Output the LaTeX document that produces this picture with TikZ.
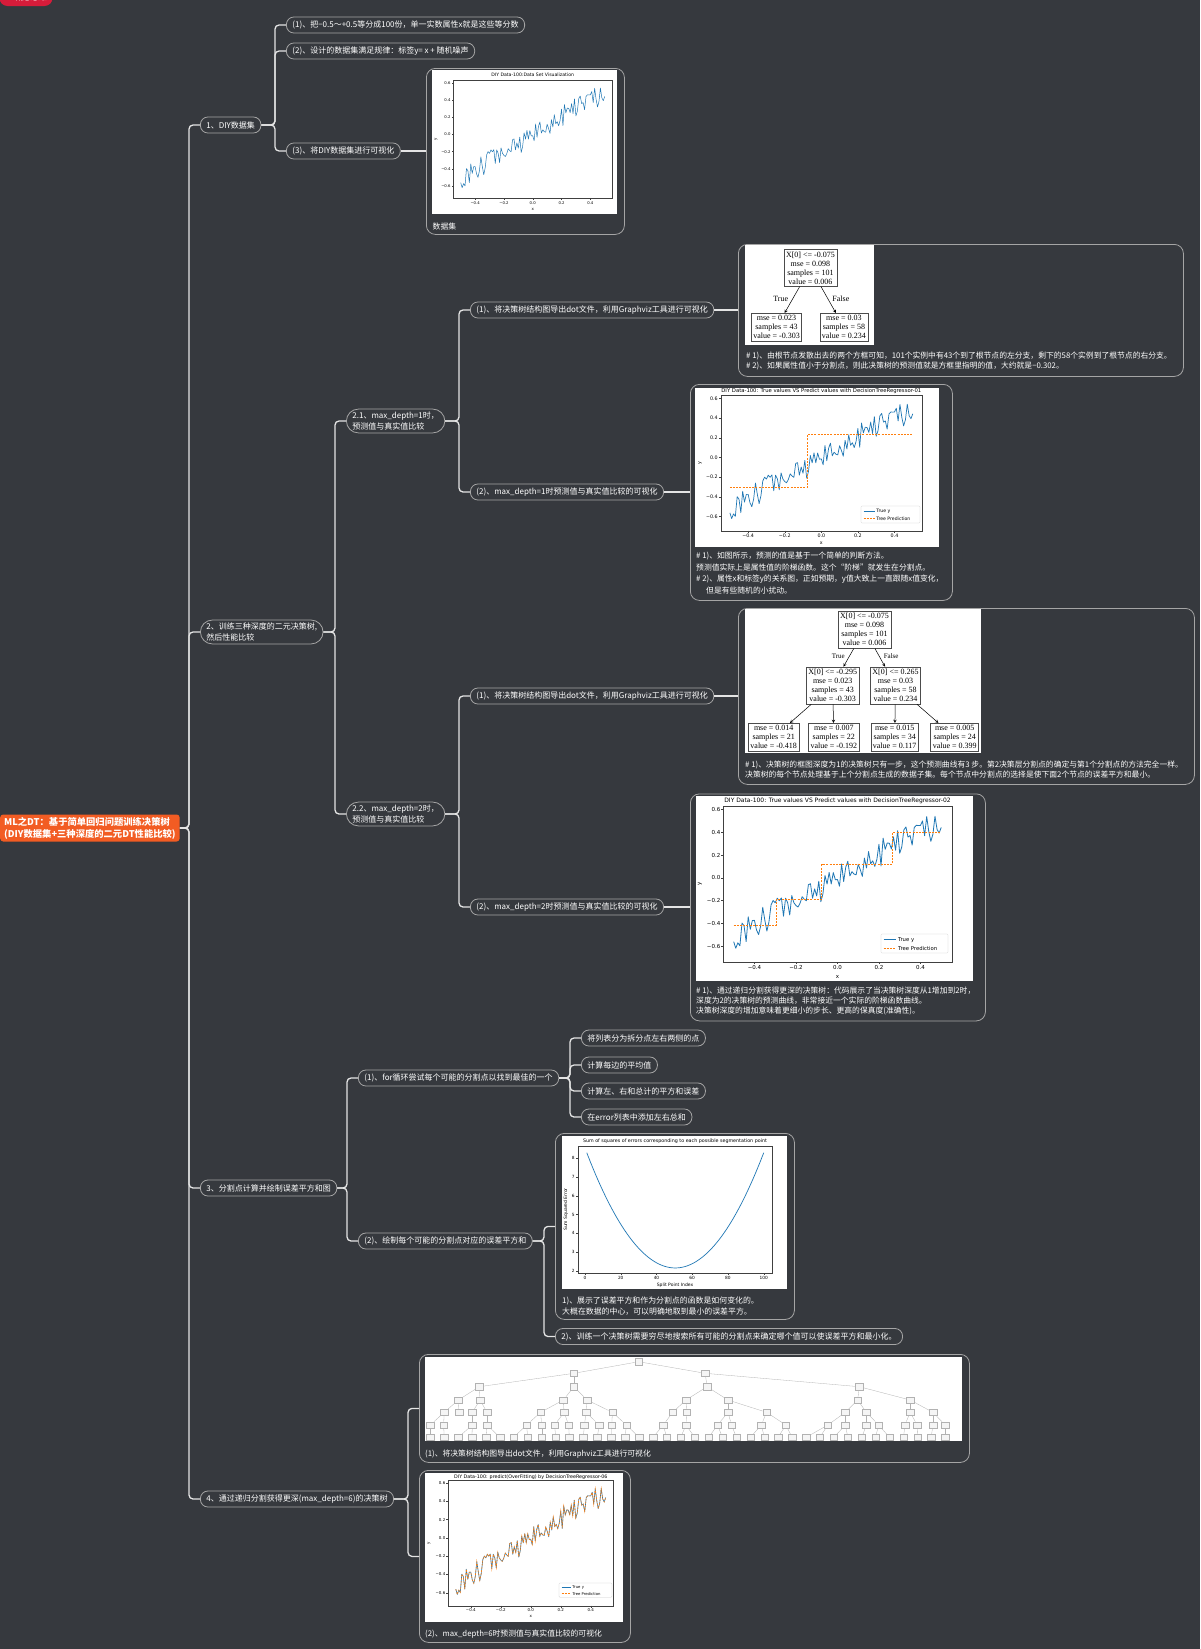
\documentclass[tikz,border=0pt]{standalone}
\usepackage{fontspec}
\setmainfont{Noto Sans CJK SC}
\newfontfamily\plotfont{DejaVu Sans}
\newfontfamily\treefont{Liberation Serif}
\usetikzlibrary{shapes,arrows,positioning,calc}

\definecolor{bgcol}{RGB}{54,57,62}
\definecolor{rimgray}{RGB}{165,165,165}
\definecolor{stemcol}{RGB}{228,228,228}
\definecolor{rootorange}{RGB}{242,92,35}
\definecolor{tagred}{RGB}{214,28,58}
\definecolor{pltblue}{RGB}{31,119,180}
\definecolor{pltorange}{RGB}{255,127,14}

\newcommand{\plotfs}[1]{\plotfont\fontsize{#1}{#1}\selectfont}

\tikzstyle{topic} = [draw=rimgray, line width=0.8pt, rounded corners=7.5pt, text=white, font=\fontsize{8}{10.5}\selectfont, inner xsep=6pt, inner ysep=3pt, minimum height=16pt, align=left]
\tikzstyle{topictwo} = [topic, rounded corners=12pt]
\tikzstyle{rootnode} = [fill=rootorange, rounded corners=3pt, text=white, font=\bfseries\fontsize{9.3}{12}\selectfont, align=left, inner xsep=4pt, inner ysep=2.5pt]
\tikzstyle{picbox} = [draw=rimgray, line width=0.8pt, rounded corners=9pt]
\tikzstyle{notetext} = [text=white, font=\fontsize{7.8}{10}\selectfont, align=left, inner sep=0pt]
\tikzstyle{branch} = [draw=stemcol, line width=1.3pt, rounded corners=4pt, to path={-- ([xshift=-11pt]\tikztotarget |- \tikztostart) |- (\tikztotarget)}]
\tikzstyle{link} = [draw=stemcol, line width=1.3pt]
\tikzstyle{axisline} = [draw=black!75, line width=0.4pt]
\tikzstyle{trueline} = [draw=pltblue, line width=0.7pt, line join=round]
\tikzstyle{predline} = [draw=pltorange, line width=0.8pt, dash pattern=on 2pt off 1.2pt]
\tikzstyle{legendframe} = [draw=black!20, fill=white, rounded corners=1pt, line width=0.3pt]
\tikzstyle{treebox} = [draw=black!70, line width=0.6pt, fill=white, align=center, inner xsep=2pt, inner ysep=2.2pt, font=\treefont\fontsize{8}{9}\selectfont]
\tikzstyle{treearrow} = [draw=black, line width=0.5pt, ->, >=stealth]
\tikzstyle{tinybox} = [draw=black!30, fill=black!4, line width=0.3pt, minimum width=7.5pt, minimum height=6.5pt, inner sep=0pt]
\tikzstyle{tinyedge} = [draw=black!30, line width=0.3pt]

% axes rectangle l,t,r,b (px) -> data x in [-0.55,0.55], y in [-0.742,0.633]
\tikzset{datamap/.style n args={4}{shift={({(#1+#3)/2},{#4-0.742*(#4-#2)/1.375})},
  /utils/exec={\pgfmathsetmacro\dmx{(#3-#1)/1.1}\pgfmathsetmacro\dmy{(#4-#2)/1.375}},
  x=\dmx pt, y=\dmy pt}}

\newcommand{\dataticks}[1]{%
  \foreach \t/\lab in {-0.6/−0.6,-0.4/−0.4,-0.2/−0.2,0/0.0,0.2/0.2,0.4/0.4,0.6/0.6}
    \draw[axisline] (-0.55,\t) -- ++(-2pt,0pt) node[anchor=east, inner sep=0.8pt, font=\plotfs{#1}] {\lab};
  \foreach \t/\lab in {-0.4/−0.4,-0.2/−0.2,0/0.0,0.2/0.2,0.4/0.4}
    \draw[axisline] (\t,-0.742) -- ++(0pt,-2pt) node[anchor=north, inner sep=0.8pt, font=\plotfs{#1}] {\lab};
}
\newcommand{\noisyline}[1]{\pgfmathsetseed{1234}%
  \draw[#1] plot[domain=-0.5:0.5, samples=101] (\x,{\x+0.13*rand});}
\newcommand{\legendbox}[5]{%
  \draw[legendframe] (#1,#2) rectangle (#3,#4);
  \draw[trueline] ({#1+2.5},{#2+0.3*(#4-#2)}) -- ++({2.4*#5},0)
    node[anchor=west, xshift=1.5pt, inner sep=0pt, font=\plotfs{#5}] {True y};
  \draw[predline] ({#1+2.5},{#2+0.74*(#4-#2)}) -- ++({2.4*#5},0)
    node[anchor=west, xshift=1.5pt, inner sep=0pt, font=\plotfs{#5}] {Tree Prediction};
}

\begin{document}
\begin{tikzpicture}[x=1pt, y=-1pt]
\useasboundingbox (0,0) rectangle (1200,1649);
\fill[bgcol] (0,0) rectangle (1200,1649);

\node[fill=tagred, rounded corners=8pt, text=white, font=\fontsize{8}{9}\selectfont, minimum width=53pt, minimum height=18pt] (tag) at (26,-3) {DT概念思维};

% root and main branches
\node[rootnode, anchor=west] (root) at (0,828) {ML之DT：基于简单回归问题训练决策树\\(DIY数据集+三种深度的二元DT性能比较)};
\node[topic, anchor=west] (dataset) at (200,125) {1、DIY数据集};
\node[topictwo, anchor=west] (train) at (200,632) {2、训练三种深度的二元决策树,\\然后性能比较};
\node[topic, anchor=west] (split) at (200,1188) {3、分割点计算并绘制误差平方和图};
\node[topic, anchor=west] (deep) at (200,1499) {4、通过递归分割获得更深(max\_depth=6)的决策树};

% 1
\node[topic, anchor=west] (dsrange) at (286,25) {(1)、把−0.5～+0.5等分成100份，单一实数属性x就是这些等分数};
\node[topic, anchor=west] (dsrule) at (286,51) {(2)、设计的数据集满足规律：标签y= x + 随机噪声};
\node[topic, anchor=west] (dsviz) at (286,151) {(3)、将DIY数据集进行可视化};
\node[picbox, anchor=north west, minimum width=198pt, minimum height=166pt] (dsbox) at (426,68) {};

% 2
\node[topictwo, anchor=west] (depthone) at (346,421) {2.1、max\_depth=1时，\\预测值与真实值比较};
\node[topictwo, anchor=west] (depthtwo) at (346,814) {2.2、max\_depth=2时，\\预测值与真实值比较};
\node[topic, anchor=west] (onedot) at (470,310) {(1)、将决策树结构图导出dot文件，利用Graphviz工具进行可视化};
\node[topic, anchor=west] (oneviz) at (470,492) {(2)、max\_depth=1时预测值与真实值比较的可视化};
\node[topic, anchor=west] (twodot) at (470,696) {(1)、将决策树结构图导出dot文件，利用Graphviz工具进行可视化};
\node[topic, anchor=west] (twoviz) at (470,907) {(2)、max\_depth=2时预测值与真实值比较的可视化};
\node[picbox, anchor=north west, minimum width=445pt, minimum height=132pt] (onedotbox) at (738,244) {};
\node[picbox, anchor=north west, minimum width=262pt, minimum height=216pt] (onevizbox) at (690,384) {};
\node[picbox, anchor=north west, minimum width=456pt, minimum height=176pt] (twodotbox) at (738,608) {};
\node[picbox, anchor=north west, minimum width=295pt, minimum height=227pt] (twovizbox) at (690,793.5) {};

% 3
\node[topic, anchor=west] (forloop) at (358,1078) {(1)、for循环尝试每个可能的分割点以找到最佳的一个};
\node[topic, anchor=west] (sseplot) at (358,1241) {(2)、绘制每个可能的分割点对应的误差平方和};
\node[topic, anchor=west] (stepa) at (581,1038) {将列表分为拆分点左右两侧的点};
\node[topic, anchor=west] (stepb) at (581,1065) {计算每边的平均值};
\node[topic, anchor=west] (stepc) at (581,1091) {计算左、右和总计的平方和误差};
\node[topic, anchor=west] (stepd) at (581,1117) {在error列表中添加左右总和};
\node[picbox, anchor=north west, minimum width=239pt, minimum height=186pt] (ssebox) at (555,1133) {};
\node[topic, anchor=west] (ssenote) at (555,1336.5) {2)、训练一个决策树需要穷尽地搜索所有可能的分割点来确定哪个值可以使误差平方和最小化。};

% 4
\node[picbox, anchor=north west, minimum width=550pt, minimum height=108pt] (sixdotbox) at (419,1354) {};
\node[picbox, anchor=north west, minimum width=211pt, minimum height=172pt] (sixvizbox) at (419,1470) {};

% connectors
\foreach \kid in {dataset,train,split,deep} \draw[branch] (root.east) to (\kid.west);
\foreach \kid in {dsrange,dsrule,dsviz} \draw[branch] (dataset.east) to (\kid.west);
\foreach \kid in {depthone,depthtwo} \draw[branch] (train.east) to (\kid.west);
\foreach \kid in {onedot,oneviz} \draw[branch] (depthone.east) to (\kid.west);
\foreach \kid in {twodot,twoviz} \draw[branch] (depthtwo.east) to (\kid.west);
\foreach \kid in {forloop,sseplot} \draw[branch] (split.east) to (\kid.west);
\foreach \kid in {stepa,stepb,stepc,stepd} \draw[branch] (forloop.east) to (\kid.west);
\foreach \kid in {ssebox,ssenote} \draw[branch] (sseplot.east) to (\kid.west);
\foreach \kid in {sixdotbox,sixvizbox} \draw[branch] (deep.east) to (\kid.west);
\draw[link] (dsviz.east) -- (dsviz.east -| dsbox.west);
\draw[link] (onedot.east) -- (onedot.east -| onedotbox.west);
\draw[link] (oneviz.east) -- (oneviz.east -| onevizbox.west);
\draw[link] (twodot.east) -- (twodot.east -| twodotbox.west);
\draw[link] (twoviz.east) -- (twoviz.east -| twovizbox.west);

% data set plot
\fill[white] (432,70) rectangle (617,214);
\draw[axisline] (453.5,80) rectangle (612,198.3);
\node[font=\plotfs{4.6}, inner sep=0pt] (dstitle) at (532.7,75) {DIY Data-100:Data Set Visualization};
\begin{scope}[datamap={453.5}{80}{612}{198.3}]
  \dataticks{3.8}
  \noisyline{trueline, line width=0.5pt}
\end{scope}
\node[font=\plotfs{4}, inner sep=0pt] (dsx) at (532.7,209.5) {x};
\node[font=\plotfs{4}, inner sep=0pt, rotate=90] (dsy) at (436,139) {y};
\node[notetext, anchor=west] (dscap) at (432.5,226.7) {数据集};

% depth 1 tree
\fill[white] (745,245) rectangle (874,345);
\node[treebox] (oneroot) at (810.4,267.8) {X[0] <= -0.075\\mse = 0.098\\samples = 101\\value = 0.006};
\node[treebox] (oneleft) at (776.5,327.2) {mse = 0.023\\samples = 43\\value = -0.303};
\node[treebox] (oneright) at (843.9,327.2) {mse = 0.03\\samples = 58\\value = 0.234};
\draw[treearrow] (oneroot) -- node[pos=0.46, left=1pt, font=\treefont\fontsize{8}{9}\selectfont] (onetrue) {True} (oneleft);
\draw[treearrow] (oneroot) -- node[pos=0.46, right=1pt, font=\treefont\fontsize{8}{9}\selectfont] (onefalse) {False} (oneright);
\node[notetext, anchor=north west] (onedotnote) at (746,352) {\# 1)、由根节点发散出去的两个方框可知，101个实例中有43个到了根节点的左分支，剩下的58个实例到了根节点的右分支。\\\# 2)、如果属性值小于分割点，则此决策树的预测值就是方框里指明的值，大约就是−0.302。};

% depth 1 plot
\fill[white] (695,388) rectangle (939,546.7);
\draw[axisline] (720.7,395) rectangle (922,530.7);
\node[font=\plotfs{5.3}, inner sep=0pt] (onetitle) at (821.3,391) {DIY Data-100: True values VS Predict values with DecisionTreeRegressor-01};
\begin{scope}[datamap={720.7}{395}{922}{530.7}]
  \dataticks{4.8}
  \noisyline{trueline}
  \draw[predline] (-0.5,-0.303) -- (-0.075,-0.303) -- (-0.075,0.234) -- (0.5,0.234);
\end{scope}
\legendbox{861}{506}{920}{523}{4.6}
\node[font=\plotfs{4.8}, inner sep=0pt] (onex) at (821.3,543) {x};
\node[font=\plotfs{4.8}, inner sep=0pt, rotate=90] (oney) at (700,463) {y};
\node[notetext, anchor=north west, font=\fontsize{7.8}{11.4}\selectfont] (oneviznote) at (696,552) {\# 1)、如图所示，预测的值是基于一个简单的判断方法。\\预测值实际上是属性值的阶梯函数。这个“阶梯”就发生在分割点。\\\# 2)、属性x和标签y的关系图，正如预期，y值大致上一直跟随x值变化，\\\hspace*{10pt}但是有些随机的小扰动。};

% depth 2 tree
\fill[white] (745,609) rectangle (981,753);
\begin{scope}[every node/.append style={font=\treefont\fontsize{7}{8.5}\selectfont}]
  \node[treebox] (tworoot) at (864.5,629.7) {X[0] <= -0.075\\mse = 0.098\\samples = 101\\value = 0.006};
  \node[treebox] (twoleft) at (832.7,685.5) {X[0] <= -0.295\\mse = 0.023\\samples = 43\\value = -0.303};
  \node[treebox] (tworight) at (895.5,685.5) {X[0] <= 0.265\\mse = 0.03\\samples = 58\\value = 0.234};
  \node[treebox] (leafa) at (773.7,737.2) {mse = 0.014\\samples = 21\\value = -0.418};
  \node[treebox] (leafb) at (833.8,737.2) {mse = 0.007\\samples = 22\\value = -0.192};
  \node[treebox] (leafc) at (894.7,737.2) {mse = 0.015\\samples = 34\\value = 0.117};
  \node[treebox] (leafd) at (954.7,737.2) {mse = 0.005\\samples = 24\\value = 0.399};
  \draw[treearrow] (tworoot) -- node[pos=0.42, left=1pt] (twotrue) {True} (twoleft);
  \draw[treearrow] (tworoot) -- node[pos=0.42, right=1pt] (twofalse) {False} (tworight);
  \draw[treearrow] (twoleft) -- (leafa);
  \draw[treearrow] (twoleft) -- (leafb);
  \draw[treearrow] (tworight) -- (leafc);
  \draw[treearrow] (tworight) -- (leafd);
\end{scope}
\node[notetext, anchor=north west] (twodotnote) at (745,761) {\# 1)、决策树的框图深度为1的决策树只有一步，这个预测曲线有3 步。第2决策层分割点的确定与第1个分割点的方法完全一样。\\决策树的每个节点处理基于上个分割点生成的数据子集。每个节点中分割点的选择是使下面2个节点的误差平方和最小。};

% depth 2 plot
\fill[white] (696,796) rectangle (973,981);
\draw[axisline] (723.3,805.7) rectangle (951.7,962.3);
\node[font=\plotfs{6}, inner sep=0pt] (twotitle) at (837.5,800.7) {DIY Data-100: True values VS Predict values with DecisionTreeRegressor-02};
\begin{scope}[datamap={723.3}{805.7}{951.7}{962.3}]
  \dataticks{5.5}
  \noisyline{trueline, line width=0.8pt}
  \draw[predline, line width=0.9pt] (-0.5,-0.418) -- (-0.295,-0.418) -- (-0.295,-0.192) -- (-0.075,-0.192)
    -- (-0.075,0.117) -- (0.265,0.117) -- (0.265,0.399) -- (0.5,0.399);
\end{scope}
\legendbox{881}{934}{948}{953}{5.3}
\node[font=\plotfs{5.5}, inner sep=0pt] (twox) at (837.5,976.7) {x};
\node[font=\plotfs{5.5}, inner sep=0pt, rotate=90] (twoy) at (700,884) {y};
\node[notetext, anchor=north west] (twoviznote) at (696,987) {\# 1)、通过递归分割获得更深的决策树：代码展示了当决策树深度从1增加到2时，\\深度为2的决策树的预测曲线，非常接近一个实际的阶梯函数曲线。\\决策树深度的增加意味着更细小的步长、更高的保真度(准确性)。};

% SSE plot
\fill[white] (562,1136) rectangle (787,1289);
\draw[axisline] (577.7,1145.7) rectangle (772.3,1273.3);
\node[font=\plotfs{4.8}, inner sep=0pt] (ssetitle) at (675,1140.7) {Sum of squares of errors corresponding to each possible segmentation point};
\begin{scope}[shift={(585,1308.2)}, x=1.787pt, y=18.73pt]
  \foreach \t in {0,20,...,100}
    \draw[axisline] (\t,1.86) -- ++(0pt,-2pt) node[anchor=north, inner sep=0.8pt, font=\plotfs{4.3}] {\t};
  \foreach \t in {2,...,8}
    \draw[axisline] (-4.08,\t) -- ++(-2pt,0pt) node[anchor=east, inner sep=0.8pt, font=\plotfs{4.3}] {\t};
  \draw[trueline] plot[domain=1:100, samples=100] (\x,{2.15+6.15*(\x-50.5)*(\x-50.5)/2450.25});
\end{scope}
\node[font=\plotfs{4.5}, inner sep=0pt] (ssex) at (675,1285.3) {Split Point Index};
\node[font=\plotfs{4.5}, inner sep=0pt, rotate=90] (ssey) at (566,1209.5) {Sum Squared Error};
\node[notetext, anchor=north west, font=\fontsize{7.9}{11}\selectfont] (ssenotes) at (562,1297) {1)、展示了误差平方和作为分割点的函数是如何变化的。\\大概在数据的中心，可以明确地取到最小的误差平方。};

% depth 6 tree
\fill[white] (425,1357) rectangle (962,1441);
\begin{scope}[shift={(419.75,0)}, x=0.3503pt]
  \node[tinybox] (sa0-0) at (625,1361.7) {};
  \foreach \px/\p [count=\i from 0] in {440/0,815/0}
    {\node[tinybox] (sa1-\i) at (\px,1373.3) {}; \draw[tinyedge] (sa0-\p) -- (sa1-\i);}
  \foreach \px/\p [count=\i from 0] in {170/0,440/0,820/1,1255/1}
    {\node[tinybox] (sa2-\i) at (\px,1386.7) {}; \draw[tinyedge] (sa1-\p) -- (sa2-\i);}
  \foreach \px/\p [count=\i from 0] in {110/0,172/0,410/1,478/1,760/2,880/2,1250/3,1400/3}
    {\node[tinybox] (sa3-\i) at (\px,1400) {}; \draw[tinyedge] (sa2-\p) -- (sa3-\i);}
  \foreach \px/\p [count=\i from 0] in {70/0,112/0,150/1,192/1,345/2,412/2,475/3,550/3,722/4,762/4,880/5,990/5,1215/6,1275/6,1400/7,1465/7}
    {\node[tinybox] (sa4-\i) at (\px,1412.3) {}; \draw[tinyedge] (sa3-\p) -- (sa4-\i);}
  \foreach \px/\p [count=\i from 0] in {30/0,68/0,150/2,192/3,305/4,348/4,385/5,425/5,470/6,512/6,548/7,590/7,695/8,760/9,850/10,890/10,975/11,1045/11,1165/12,1215/12,1275/13,1310/13,1385/14,1420/14,1465/15,1500/15}
    {\node[tinybox] (sa5-\i) at (\px,1425) {}; \draw[tinyedge] (sa4-\p) -- (sa5-\i);}
  \foreach \px/\p [count=\i from 0] in {30/0,70/1,110/2,149/2,189/3,229/3,268/4,308/4,348/5,388/6,427/7,467/8,507/9,547/10,586/11,626/11,666/12,705/12,745/13,785/13,825/14,864/14,904/15,944/16,984/16,1023/17,1063/17,1103/18,1142/18,1182/19,1222/19,1262/20,1301/21,1341/21,1381/22,1421/23,1460/24,1500/25}
    {\node[tinybox] (sa6-\i) at (\px,1437.3) {}; \draw[tinyedge] (sa5-\p) -- (sa6-\i);}
\end{scope}
\node[notetext, anchor=west] (sixdotcap) at (425,1454) {(1)、将决策树结构图导出dot文件，利用Graphviz工具进行可视化};

% depth 6 plot
\fill[white] (425,1473) rectangle (623,1622);
\draw[axisline] (448.3,1480) rectangle (613.3,1605.7);
\node[font=\plotfs{4.8}, inner sep=0pt] (sixtitle) at (530.8,1477) {DIY Data-100: predict(OverFitting) by DecisionTreeRegressor-06};
\begin{scope}[datamap={448.3}{1480}{613.3}{1605.7}]
  \dataticks{4}
  \noisyline{trueline, line width=0.6pt}
  \noisyline{predline, line width=0.6pt}
\end{scope}
\legendbox{559}{1583}{612}{1597.3}{3.8}
\node[font=\plotfs{4}, inner sep=0pt] (sixx) at (530.8,1616.7) {x};
\node[font=\plotfs{4}, inner sep=0pt, rotate=90] (sixy) at (429,1543) {y};
\node[notetext, anchor=west] (sixvizcap) at (425,1634) {(2)、max\_depth=6时预测值与真实值比较的可视化};
\end{tikzpicture}
\end{document}
